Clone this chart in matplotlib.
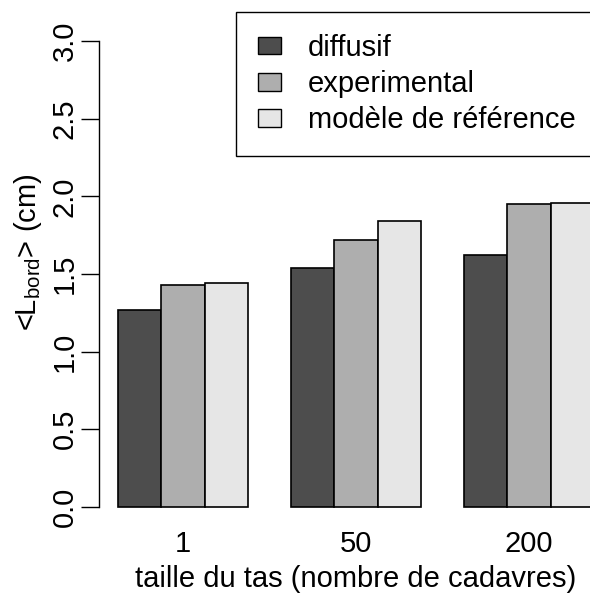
import matplotlib
matplotlib.use('Agg')
import matplotlib.pyplot as plt
import numpy as np
from matplotlib.patches import Patch

sizes = ['1', '50', '200']
series = ['diffusif', 'experimental', 'modèle de référence']
diffusif = [1.27, 1.54, 1.62]
experimental = [1.43, 1.72, 1.95]
reference = [1.44, 1.84, 1.96]
colors = ['#4D4D4D', '#AEAEAE', '#E6E6E6']

plt.rcParams['font.family'] = ['Liberation Sans', 'DejaVu Sans']
plt.rcParams['font.size'] = 21
plt.rcParams['mathtext.fontset'] = 'custom'
plt.rcParams['mathtext.rm'] = 'Liberation Sans'
plt.rcParams['mathtext.it'] = 'Liberation Sans'
plt.rcParams['mathtext.default'] = 'regular'


def plot_bars():
    W, H = 590, 599
    fig = plt.figure(figsize=(W / 100, H / 100), dpi=100)
    ax = fig.add_axes([99 / W, 1 - 525.6 / H, 514 / W, 503.2 / H])

    # R barplot(beside=TRUE) layout: groups of 3 bars, one bar of space between
    groups = np.array([1, 5, 9])
    for i, (vals, c) in enumerate(zip([diffusif, experimental, reference], colors)):
        ax.bar(groups + i, vals, width=1, align='edge', color=c,
               edgecolor='black', linewidth=1.2, label=series[i])

    ax.set_xlim(0.56, 12.44)
    ax.set_ylim(-0.12, 3.12)
    for s in ['top', 'right', 'bottom']:
        ax.spines[s].set_visible(False)
    ax.spines['left'].set_bounds(0, 3)
    ax.spines['left'].set_linewidth(1)

    ax.set_xticks(groups + 1.5)
    ax.set_xticklabels(sizes)
    ax.tick_params(axis='x', length=0, pad=3.5)
    ax.set_yticks(np.arange(0, 3.01, 0.5))
    ax.set_yticklabels([f'{v:.1f}' for v in np.arange(0, 3.01, 0.5)])
    ax.tick_params(axis='y', length=13, width=1, pad=1.5, labelrotation=90)
    for lab in ax.get_yticklabels():
        lab.set_va('center')

    ax.set_xlabel('taille du tas (nombre de cadavres)', labelpad=5)
    fig.text(28 / W, 1 - 252 / H, r'<L$_\mathregular{bord}$> (cm)', rotation=90,
             ha='center', va='center')

    handles = [Patch(facecolor=c, edgecolor='black', linewidth=1) for c in colors]
    leg = fig.legend(handles, series, loc='upper left',
                     bbox_to_anchor=(236 / W, 0, 400 / W, 1 - 12 / H),
                     mode='expand', borderaxespad=0, borderpad=0.75,
                     labelspacing=0.28, handlelength=0.79, handleheight=0.55,
                     handletextpad=0.92, fancybox=False, framealpha=1)
    leg.get_frame().set_edgecolor('black')
    leg.get_frame().set_linewidth(1)

    fig.savefig('out.png', dpi=100)


if __name__ == '__main__':
    plot_bars()
